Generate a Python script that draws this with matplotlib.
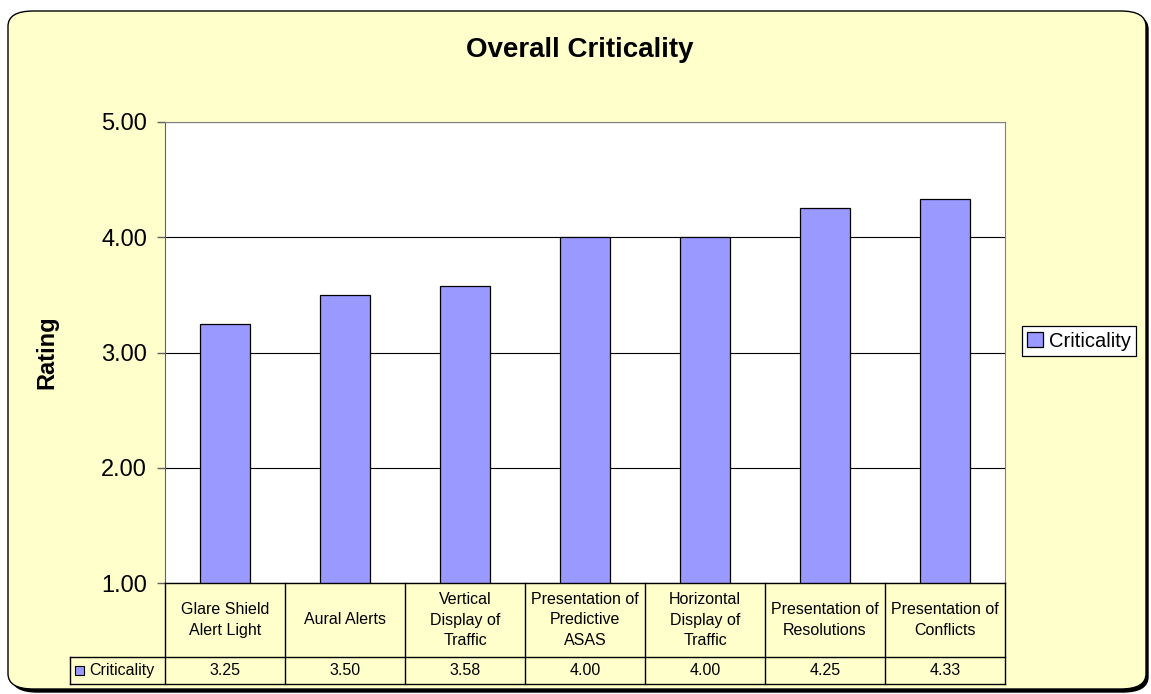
import matplotlib
matplotlib.use("Agg")
import matplotlib.pyplot as plt
import numpy as np
from matplotlib.lines import Line2D
from matplotlib.patches import FancyBboxPatch, Rectangle
from matplotlib.transforms import blended_transform_factory

plt.rcParams["font.family"] = ["Liberation Sans", "DejaVu Sans"]

categories = ["Glare Shield\nAlert Light", "Aural Alerts", "Vertical\nDisplay of\nTraffic",
              "Presentation of\nPredictive\nASAS", "Horizontal\nDisplay of\nTraffic",
              "Presentation of\nResolutions", "Presentation of\nConflicts"]
criticality = [3.25, 3.50, 3.58, 4.00, 4.00, 4.25, 4.33]
series_name = "Criticality"
y_ticks = [1.0, 2.0, 3.0, 4.0, 5.0]

W, H = 1151, 694
BG = "#FFFFCC"
BAR = "#9999FF"


def fx(px):
    return px / W


def fy(py):
    return 1 - py / H


fig = plt.figure(figsize=(W / 100, H / 100), dpi=100, facecolor="white")

# rounded chart area with a drop shadow, kept behind the axes
shadow = FancyBboxPatch((fx(12), fy(692)), fx(1136), fy(14) - fy(692),
                        boxstyle="round,pad=0,rounding_size=0.022", transform=fig.transFigure,
                        facecolor="black", edgecolor="black", lw=1, zorder=-2)
frame = FancyBboxPatch((fx(8), fy(689)), fx(1138), fy(11) - fy(689),
                       boxstyle="round,pad=0,rounding_size=0.022", transform=fig.transFigure,
                       facecolor=BG, edgecolor="black", lw=1.0, zorder=-1)
fig.patches.extend([shadow, frame])

ax = fig.add_axes([fx(165), fy(583), fx(1005) - fx(165), fy(122) - fy(583)])
ax.set_facecolor("white")
x = np.arange(len(categories))
ax.bar(x, criticality, width=0.42, color=BAR, edgecolor="black", lw=0.9,
       label=series_name, zorder=3)
ax.set_xlim(-0.5, len(categories) - 0.5)
ax.set_ylim(y_ticks[0], y_ticks[-1])
ax.set_yticks(y_ticks)
ax.set_yticklabels([f"{v:.2f}" for v in y_ticks])
ax.set_xticks([])
ax.grid(axis="y", color="black", lw=0.8, zorder=1)
ax.tick_params(axis="y", labelsize=17, length=6, width=1, color="#606060", pad=7)
for side in ["top", "right"]:
    ax.spines[side].set_color("#808080")
ax.spines["left"].set_color("#606060")
ax.spines["bottom"].set_visible(False)

fig.text(fx(580), fy(50), "Overall Criticality", ha="center", va="center",
         fontsize=20, fontweight="bold")
fig.text(fx(47), fy(352), "Rating", ha="center", va="center", rotation=90,
         fontsize=17, fontweight="bold")

# data table under the plot: category row, then value row with legend key
tr = blended_transform_factory(ax.transData, fig.transFigure)
top, mid, bot = fy(583), fy(657), fy(684)
edges = np.arange(len(categories) + 1) - 0.5
lw = 1.0
fig.add_artist(Line2D([edges[0], edges[-1]], [top, top], transform=tr, color="black", lw=lw))
for e in edges:
    fig.add_artist(Line2D([e, e], [top, bot], transform=tr, color="black", lw=lw))
for yy in (mid, bot):
    fig.add_artist(Line2D([fx(70), fx(1005)], [yy, yy], transform=fig.transFigure,
                          color="black", lw=lw))
fig.add_artist(Line2D([fx(70), fx(70)], [mid, bot], transform=fig.transFigure,
                      color="black", lw=lw))

for xi, lab, val in zip(x, categories, criticality):
    fig.text(xi, (top + mid) / 2, lab, transform=tr, ha="center", va="center",
             fontsize=11.5, linespacing=1.45)
    fig.text(xi, (mid + bot) / 2, f"{val:.2f}", transform=tr, ha="center", va="center",
             fontsize=11.5)

fig.add_artist(Rectangle((fx(75), fy(675)), fx(9), fy(666) - fy(675),
                         transform=fig.transFigure, facecolor=BAR, edgecolor="black", lw=0.8))
fig.text(fx(89), (mid + bot) / 2, series_name, ha="left", va="center", fontsize=11.5)

leg = ax.legend(loc="center", bbox_to_anchor=(fx(1079), fy(341)),
                bbox_transform=fig.transFigure, fontsize=14.5, frameon=True,
                fancybox=False, edgecolor="black", framealpha=1, borderpad=0.25,
                handlelength=0.75, handleheight=0.75, handletextpad=0.3,
                borderaxespad=0)
leg.get_frame().set_linewidth(0.9)

fig.savefig("out.png", dpi=100, facecolor="white")
